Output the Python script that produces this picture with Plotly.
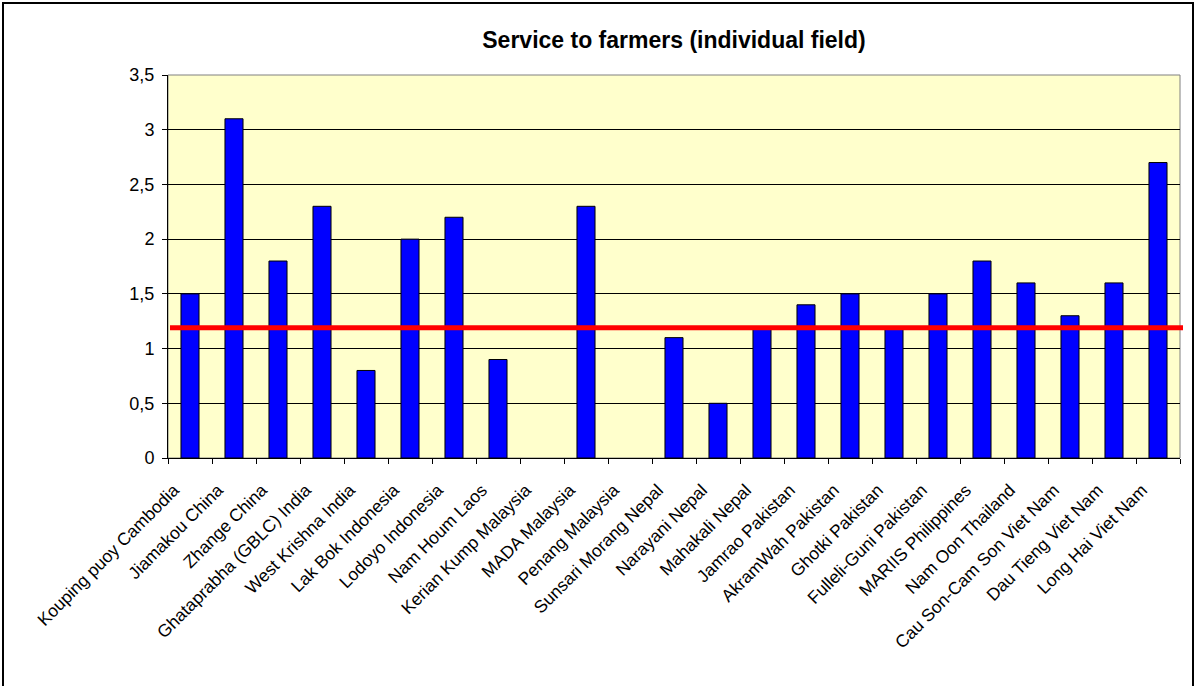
import plotly.graph_objects as go

categories = [
    "Kouping puoy Cambodia", "Jiamakou China", "Zhange China", "Ghataprabha (GBLC) India",
    "West Krishna India", "Lak Bok Indonesia", "Lodoyo Indonesia", "Nam Houm Laos",
    "Kerian Kump Malaysia", "MADA Malaysia", "Penang Malaysia", "Sunsari Morang Nepal",
    "Narayani Nepal", "Mahakali Nepal", "Jamrao Pakistan", "AkramWah Pakistan",
    "Ghotki Pakistan", "Fulleli-Guni Pakistan", "MARIIS Philippines", "Nam Oon Thailand",
    "Cau Son-Cam Son Viet Nam", "Dau Tieng Viet Nam", "Long Hai Viet Nam",
]
values = [1.5, 3.1, 1.8, 2.3, 0.8, 2.0, 2.2, 0.9, 0, 2.3, 0, 1.1, 0.5, 1.2, 1.4, 1.5,
          1.2, 1.5, 1.8, 1.6, 1.3, 1.6, 2.7]
reference_level = 1.19
y_ticks = [0, 0.5, 1, 1.5, 2, 2.5, 3, 3.5]

W, H = 1195, 686
ML, MR, MT, MB = 168, 15, 75, 228
PW, PH = W - ML - MR, H - MT - MB

def px_x(p):
    return (p - ML) / PW

def px_y(p):
    return (H - MB - p) / PH

fig = go.Figure()
fig.add_trace(go.Bar(
    x=categories, y=values,
    marker=dict(color="#0000FF",
                line=dict(color="#000000", width=[1 if v else 0 for v in values])),
    showlegend=False, hoverinfo="x+y",
))

fig.update_layout(
    width=W, height=H,
    margin=dict(l=ML, r=MR, t=MT, b=MB, pad=0),
    paper_bgcolor="#FFFFFF",
    plot_bgcolor="#FFFFCC",
    separators=", ",
    bargap=0.59,
    font=dict(family="Liberation Sans, Arial, sans-serif", size=18, color="#000000"),
    title=dict(text="<b>Service to farmers (individual field)</b>", x=0.5, xref="paper",
               xanchor="center", y=1 - 40 / H, yanchor="middle",
               font=dict(size=23, family="Liberation Sans, Arial, sans-serif")),
    xaxis=dict(
        type="category", tickangle=-45, tickson="boundaries",
        ticks="outside", ticklen=5, tickcolor="#000000",
        showline=True, linecolor="#000000", linewidth=1,
        showgrid=False, tickfont=dict(size=17.5), mirror=False,
        ticklabelstandoff=14, ticklabelshift=-16,
    ),
    yaxis=dict(
        range=[0, 3.5], tickvals=y_ticks, ticks="outside", ticklen=5,
        tickcolor="#000000", showline=True, linecolor="#000000", linewidth=1,
        showgrid=True, gridcolor="#000000", gridwidth=1, zeroline=False,
        tickfont=dict(size=18), ticklabelstandoff=4,
    ),
    shapes=[
        dict(type="rect", xref="paper", yref="paper", x0=0, x1=1, y0=0, y1=1,
             line=dict(color="#808080", width=1), fillcolor="rgba(0,0,0,0)", layer="below"),
        dict(type="line", xref="paper", yref="y", x0=px_x(170), x1=px_x(1183),
             y0=reference_level, y1=reference_level,
             line=dict(color="#FF0000", width=5), layer="above"),
        dict(type="rect", xref="paper", yref="paper",
             x0=px_x(3), x1=px_x(1193), y0=px_y(688), y1=px_y(3),
             line=dict(color="#000000", width=2), fillcolor="rgba(0,0,0,0)"),
    ],
)

fig.write_html("out.html")
